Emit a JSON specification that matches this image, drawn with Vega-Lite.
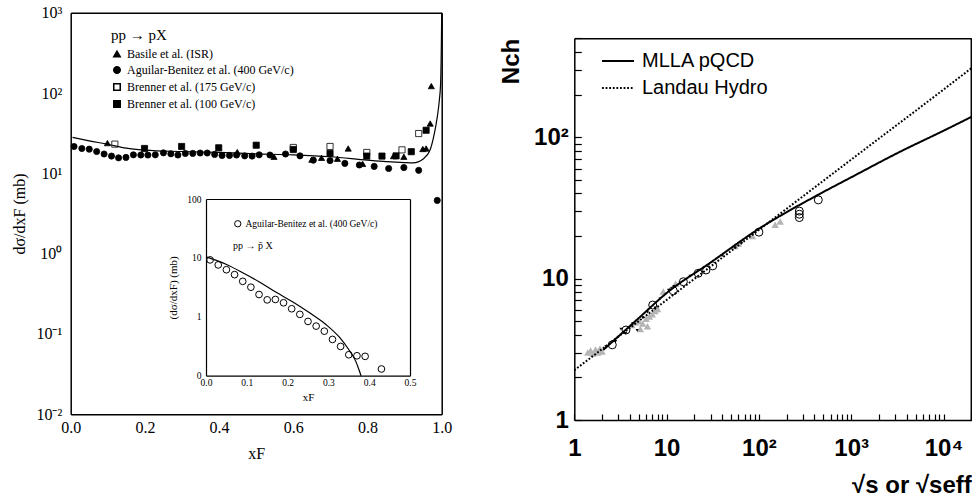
{
  "$schema": "https://vega.github.io/schema/vega-lite/v6.json",
  "width": 972,
  "height": 503,
  "autosize": {"type": "none"},
  "padding": 0,
  "background": "white",
  "config": {
    "view": {"stroke": null},
    "axis": {"grid": false, "labelFlush": false, "labelOverlap": false, "domainColor": "black", "tickColor": "black", "labelColor": "black", "titleColor": "black", "tickWidth": 1.2, "tickOpacity": 1}
  },
  "datasets": {
    "dummy": [{"a": 1, "b": 1}],
    "main": [
      {"x": 0.009, "y": 21.6, "series": "Aguilar-Benitez et al. (400 GeV/c)"},
      {"x": 0.030, "y": 20.4, "series": "Aguilar-Benitez et al. (400 GeV/c)"},
      {"x": 0.050, "y": 20.0, "series": "Aguilar-Benitez et al. (400 GeV/c)"},
      {"x": 0.070, "y": 18.7, "series": "Aguilar-Benitez et al. (400 GeV/c)"},
      {"x": 0.090, "y": 17.4, "series": "Aguilar-Benitez et al. (400 GeV/c)"},
      {"x": 0.110, "y": 16.4, "series": "Aguilar-Benitez et al. (400 GeV/c)"},
      {"x": 0.129, "y": 15.6, "series": "Aguilar-Benitez et al. (400 GeV/c)"},
      {"x": 0.149, "y": 15.8, "series": "Aguilar-Benitez et al. (400 GeV/c)"},
      {"x": 0.169, "y": 17.0, "series": "Aguilar-Benitez et al. (400 GeV/c)"},
      {"x": 0.189, "y": 16.9, "series": "Aguilar-Benitez et al. (400 GeV/c)"},
      {"x": 0.208, "y": 16.9, "series": "Aguilar-Benitez et al. (400 GeV/c)"},
      {"x": 0.228, "y": 17.0, "series": "Aguilar-Benitez et al. (400 GeV/c)"},
      {"x": 0.250, "y": 18.0, "series": "Aguilar-Benitez et al. (400 GeV/c)"},
      {"x": 0.270, "y": 17.5, "series": "Aguilar-Benitez et al. (400 GeV/c)"},
      {"x": 0.289, "y": 16.9, "series": "Aguilar-Benitez et al. (400 GeV/c)"},
      {"x": 0.309, "y": 17.7, "series": "Aguilar-Benitez et al. (400 GeV/c)"},
      {"x": 0.329, "y": 17.7, "series": "Aguilar-Benitez et al. (400 GeV/c)"},
      {"x": 0.349, "y": 17.9, "series": "Aguilar-Benitez et al. (400 GeV/c)"},
      {"x": 0.368, "y": 17.9, "series": "Aguilar-Benitez et al. (400 GeV/c)"},
      {"x": 0.388, "y": 17.2, "series": "Aguilar-Benitez et al. (400 GeV/c)"},
      {"x": 0.408, "y": 16.7, "series": "Aguilar-Benitez et al. (400 GeV/c)"},
      {"x": 0.428, "y": 16.7, "series": "Aguilar-Benitez et al. (400 GeV/c)"},
      {"x": 0.447, "y": 16.9, "series": "Aguilar-Benitez et al. (400 GeV/c)"},
      {"x": 0.469, "y": 16.5, "series": "Aguilar-Benitez et al. (400 GeV/c)"},
      {"x": 0.489, "y": 16.4, "series": "Aguilar-Benitez et al. (400 GeV/c)"},
      {"x": 0.508, "y": 17.0, "series": "Aguilar-Benitez et al. (400 GeV/c)"},
      {"x": 0.537, "y": 16.9, "series": "Aguilar-Benitez et al. (400 GeV/c)"},
      {"x": 0.579, "y": 17.4, "series": "Aguilar-Benitez et al. (400 GeV/c)"},
      {"x": 0.618, "y": 16.5, "series": "Aguilar-Benitez et al. (400 GeV/c)"},
      {"x": 0.654, "y": 14.6, "series": "Aguilar-Benitez et al. (400 GeV/c)"},
      {"x": 0.699, "y": 14.4, "series": "Aguilar-Benitez et al. (400 GeV/c)"},
      {"x": 0.739, "y": 13.3, "series": "Aguilar-Benitez et al. (400 GeV/c)"},
      {"x": 0.778, "y": 12.7, "series": "Aguilar-Benitez et al. (400 GeV/c)"},
      {"x": 0.818, "y": 12.2, "series": "Aguilar-Benitez et al. (400 GeV/c)"},
      {"x": 0.857, "y": 11.5, "series": "Aguilar-Benitez et al. (400 GeV/c)"},
      {"x": 0.898, "y": 11.8, "series": "Aguilar-Benitez et al. (400 GeV/c)"},
      {"x": 0.938, "y": 10.9, "series": "Aguilar-Benitez et al. (400 GeV/c)"},
      {"x": 0.988, "y": 4.6, "series": "Aguilar-Benitez et al. (400 GeV/c)"},
      {"x": 0.099, "y": 23.8, "series": "Basile et al. (ISR)"},
      {"x": 0.449, "y": 18.4, "series": "Basile et al. (ISR)"},
      {"x": 0.548, "y": 16.1, "series": "Basile et al. (ISR)"},
      {"x": 0.650, "y": 14.8, "series": "Basile et al. (ISR)"},
      {"x": 0.676, "y": 15.6, "series": "Basile et al. (ISR)"},
      {"x": 0.719, "y": 15.2, "series": "Basile et al. (ISR)"},
      {"x": 0.748, "y": 20.4, "series": "Basile et al. (ISR)"},
      {"x": 0.787, "y": 13.1, "series": "Basile et al. (ISR)"},
      {"x": 0.870, "y": 16.4, "series": "Basile et al. (ISR)"},
      {"x": 0.898, "y": 16.1, "series": "Basile et al. (ISR)"},
      {"x": 0.949, "y": 20.1, "series": "Basile et al. (ISR)"},
      {"x": 0.958, "y": 20.4, "series": "Basile et al. (ISR)"},
      {"x": 0.969, "y": 41.7, "series": "Basile et al. (ISR)"},
      {"x": 0.972, "y": 122, "series": "Basile et al. (ISR)"},
      {"x": 0.119, "y": 23.1, "series": "Brenner et al. (175 GeV/c)"},
      {"x": 0.600, "y": 21.0, "series": "Brenner et al. (175 GeV/c)"},
      {"x": 0.699, "y": 21.6, "series": "Brenner et al. (175 GeV/c)"},
      {"x": 0.798, "y": 18.2, "series": "Brenner et al. (175 GeV/c)"},
      {"x": 0.893, "y": 19.6, "series": "Brenner et al. (175 GeV/c)"},
      {"x": 0.938, "y": 31.3, "series": "Brenner et al. (175 GeV/c)"},
      {"x": 0.199, "y": 20.4, "series": "Brenner et al. (100 GeV/c)"},
      {"x": 0.299, "y": 21.6, "series": "Brenner et al. (100 GeV/c)"},
      {"x": 0.399, "y": 20.8, "series": "Brenner et al. (100 GeV/c)"},
      {"x": 0.500, "y": 22.4, "series": "Brenner et al. (100 GeV/c)"},
      {"x": 0.600, "y": 19.8, "series": "Brenner et al. (100 GeV/c)"},
      {"x": 0.699, "y": 17.7, "series": "Brenner et al. (100 GeV/c)"},
      {"x": 0.798, "y": 16.4, "series": "Brenner et al. (100 GeV/c)"},
      {"x": 0.839, "y": 16.4, "series": "Brenner et al. (100 GeV/c)"},
      {"x": 0.877, "y": 16.5, "series": "Brenner et al. (100 GeV/c)"},
      {"x": 0.918, "y": 18.6, "series": "Brenner et al. (100 GeV/c)"},
      {"x": 0.958, "y": 34.4, "series": "Brenner et al. (100 GeV/c)"}
    ],
    "mainCurve": [
      {"x": 0.005, "y": 28}, {"x": 0.05, "y": 25.4}, {"x": 0.1, "y": 23.0}, {"x": 0.15, "y": 20.6},
      {"x": 0.2, "y": 19.5}, {"x": 0.3, "y": 18.7}, {"x": 0.4, "y": 18.2}, {"x": 0.5, "y": 17.5},
      {"x": 0.6, "y": 17.0}, {"x": 0.7, "y": 16.1}, {"x": 0.8, "y": 14.6}, {"x": 0.85, "y": 14.0},
      {"x": 0.9, "y": 13.6}, {"x": 0.923, "y": 13.5}, {"x": 0.95, "y": 15.1}, {"x": 0.968, "y": 19.2},
      {"x": 0.98, "y": 31}, {"x": 0.988, "y": 50}, {"x": 0.9935, "y": 80}, {"x": 0.997, "y": 130},
      {"x": 0.9992, "y": 450}, {"x": 1.0, "y": 1000}
    ],
    "inset": [
      {"x": 0.01, "y": 9.25, "series": "Aguilar-Benitez et al. (400 GeV/c)"},
      {"x": 0.03, "y": 7.6, "series": "Aguilar-Benitez et al. (400 GeV/c)"},
      {"x": 0.05, "y": 6.3, "series": "Aguilar-Benitez et al. (400 GeV/c)"},
      {"x": 0.07, "y": 5.2, "series": "Aguilar-Benitez et al. (400 GeV/c)"},
      {"x": 0.09, "y": 4.0, "series": "Aguilar-Benitez et al. (400 GeV/c)"},
      {"x": 0.11, "y": 3.18, "series": "Aguilar-Benitez et al. (400 GeV/c)"},
      {"x": 0.13, "y": 2.39, "series": "Aguilar-Benitez et al. (400 GeV/c)"},
      {"x": 0.15, "y": 1.94, "series": "Aguilar-Benitez et al. (400 GeV/c)"},
      {"x": 0.17, "y": 1.97, "series": "Aguilar-Benitez et al. (400 GeV/c)"},
      {"x": 0.19, "y": 1.73, "series": "Aguilar-Benitez et al. (400 GeV/c)"},
      {"x": 0.21, "y": 1.37, "series": "Aguilar-Benitez et al. (400 GeV/c)"},
      {"x": 0.23, "y": 1.10, "series": "Aguilar-Benitez et al. (400 GeV/c)"},
      {"x": 0.25, "y": 0.834, "series": "Aguilar-Benitez et al. (400 GeV/c)"},
      {"x": 0.27, "y": 0.695, "series": "Aguilar-Benitez et al. (400 GeV/c)"},
      {"x": 0.29, "y": 0.57, "series": "Aguilar-Benitez et al. (400 GeV/c)"},
      {"x": 0.31, "y": 0.413, "series": "Aguilar-Benitez et al. (400 GeV/c)"},
      {"x": 0.33, "y": 0.314, "series": "Aguilar-Benitez et al. (400 GeV/c)"},
      {"x": 0.35, "y": 0.227, "series": "Aguilar-Benitez et al. (400 GeV/c)"},
      {"x": 0.37, "y": 0.218, "series": "Aguilar-Benitez et al. (400 GeV/c)"},
      {"x": 0.39, "y": 0.213, "series": "Aguilar-Benitez et al. (400 GeV/c)"},
      {"x": 0.43, "y": 0.13, "series": "Aguilar-Benitez et al. (400 GeV/c)"}
    ],
    "insetCurve": [
      {"x": 0, "y": 10.4}, {"x": 0.049, "y": 7.8}, {"x": 0.09, "y": 5.6}, {"x": 0.131, "y": 3.9},
      {"x": 0.172, "y": 2.6}, {"x": 0.212, "y": 1.8}, {"x": 0.253, "y": 1.18}, {"x": 0.294, "y": 0.74},
      {"x": 0.327, "y": 0.45}, {"x": 0.351, "y": 0.27}, {"x": 0.368, "y": 0.17}, {"x": 0.376, "y": 0.12},
      {"x": 0.38, "y": 0.1}
    ],
    "rightLines": [
      {"x": 2.06, "y": 3.13, "model": "MLLA pQCD"}, {"x": 3, "y": 3.9, "model": "MLLA pQCD"},
      {"x": 5, "y": 5.26, "model": "MLLA pQCD"}, {"x": 10, "y": 7.9, "model": "MLLA pQCD"},
      {"x": 30, "y": 13, "model": "MLLA pQCD"}, {"x": 100, "y": 22.5, "model": "MLLA pQCD"},
      {"x": 460, "y": 39.8, "model": "MLLA pQCD"}, {"x": 1000, "y": 52, "model": "MLLA pQCD"},
      {"x": 3400, "y": 79, "model": "MLLA pQCD"}, {"x": 10000, "y": 111, "model": "MLLA pQCD"},
      {"x": 20000, "y": 139, "model": "MLLA pQCD"},
      {"x": 1, "y": 2.25, "model": "Landau Hydro"}, {"x": 10, "y": 7.06, "model": "Landau Hydro"},
      {"x": 100, "y": 22.1, "model": "Landau Hydro"}, {"x": 1000, "y": 69.4, "model": "Landau Hydro"},
      {"x": 10000, "y": 217, "model": "Landau Hydro"}, {"x": 20000, "y": 307, "model": "Landau Hydro"}
    ],
    "rightCircles": [
      {"x": 2.58, "y": 3.4}, {"x": 3.63, "y": 4.33}, {"x": 7.07, "y": 6.5}, {"x": 11.8, "y": 8.2},
      {"x": 15.2, "y": 9.5}, {"x": 22, "y": 10.9}, {"x": 26.7, "y": 11.5}, {"x": 31.6, "y": 12.3},
      {"x": 100, "y": 21.3}, {"x": 274, "y": 27}, {"x": 274, "y": 28.5}, {"x": 274, "y": 30},
      {"x": 440, "y": 36}
    ],
    "rightGray": [
      {"x": 1.4, "y": 3.0}, {"x": 1.5, "y": 3.1}, {"x": 1.6, "y": 2.95}, {"x": 1.7, "y": 3.15},
      {"x": 1.8, "y": 3.0}, {"x": 1.9, "y": 3.2}, {"x": 2.0, "y": 3.05}, {"x": 4.2, "y": 4.7},
      {"x": 4.6, "y": 4.9}, {"x": 5.0, "y": 5.0}, {"x": 5.5, "y": 4.8}, {"x": 6.0, "y": 5.2},
      {"x": 6.5, "y": 5.4}, {"x": 7.0, "y": 5.6}, {"x": 7.5, "y": 5.9}, {"x": 8.0, "y": 6.1},
      {"x": 5.2, "y": 4.4}, {"x": 6.2, "y": 4.6}, {"x": 9.2, "y": 8.1}, {"x": 12.5, "y": 9.2},
      {"x": 55, "y": 17}, {"x": 60, "y": 17.6}, {"x": 85, "y": 20}, {"x": 150, "y": 24}, {"x": 170, "y": 25.3}
    ],
    "rightBlack": [
      {"x": 2.2, "y": 3.3}, {"x": 2.8, "y": 3.6}, {"x": 3.2, "y": 4.4}, {"x": 3.6, "y": 4.1},
      {"x": 4.3, "y": 4.8}, {"x": 4.8, "y": 4.3}, {"x": 5.5, "y": 5.3}, {"x": 6.2, "y": 5.8},
      {"x": 7.5, "y": 6.2}, {"x": 8.5, "y": 7.2}, {"x": 10.5, "y": 8.3}, {"x": 12, "y": 8.8},
      {"x": 14, "y": 9.3}, {"x": 18, "y": 10.4}, {"x": 25, "y": 11.8}, {"x": 40, "y": 14.5},
      {"x": 55, "y": 16.5}, {"x": 65, "y": 17.8}
    ]
  },
  "resolve": {
    "scale": {"x": "independent", "y": "independent", "shape": "independent", "fill": "independent", "strokeDash": "independent"},
    "axis": {"x": "independent", "y": "independent"},
    "legend": {"shape": "independent", "fill": "independent", "strokeDash": "independent"}
  },
  "layer": [
    {
      "data": {"name": "main"},
      "mark": {"type": "point", "filled": true, "stroke": "black", "strokeWidth": 0.8, "size": 38, "opacity": 1},
      "encoding": {
        "x": {"field": "x", "type": "quantitative",
          "scale": {"type": "linear", "domain": [0, 1], "range": [70.7, 441.7], "nice": false, "zero": false},
          "axis": {"orient": "bottom", "offset": -88.7, "values": [0, 0.2, 0.4, 0.6, 0.8, 1], "format": ".1f", "ticks": false, "domainWidth": 1.5, "labelFont": "Liberation Serif", "labelFontSize": 16, "labelPadding": 5, "title": "xF", "titleFont": "Liberation Serif", "titleFontSize": 16, "titleFontWeight": "normal", "titlePadding": 10}},
        "y": {"field": "y", "type": "quantitative",
          "scale": {"type": "log", "domain": [0.01, 1000], "range": [414.3, 12.7], "nice": false},
          "axis": {"orient": "left", "offset": -70.7, "values": [0.01, 0.1, 1, 10, 100, 1000], "labelExpr": "datum.value == 1000 ? '10³' : datum.value == 100 ? '10²' : datum.value == 10 ? '10¹' : datum.value == 1 ? '10⁰' : datum.value == 0.1 ? '10⁻¹' : '10⁻²'", "ticks": false, "domainWidth": 1.5, "labelFont": "Liberation Serif", "labelFontSize": 16, "labelPadding": 9, "title": "dσ/dxF (mb)", "titleFont": "Liberation Serif", "titleFontSize": 16, "titleFontWeight": "normal", "titlePadding": 8}},
        "shape": {"field": "series", "type": "nominal",
          "scale": {"domain": ["Basile et al. (ISR)", "Aguilar-Benitez et al. (400 GeV/c)", "Brenner et al. (175 GeV/c)", "Brenner et al. (100 GeV/c)"], "range": ["triangle-up", "circle", "square", "square"]},
          "legend": {"title": "pp → pX", "orient": "none", "legendX": 111, "legendY": 28, "padding": 0, "titleFont": "Liberation Serif", "titleFontSize": 15, "titleFontWeight": "normal", "titlePadding": 5, "labelFont": "Liberation Serif", "labelFontSize": 12, "labelLimit": 400, "labelColor": "black", "titleColor": "black", "symbolSize": 42, "rowPadding": 3, "labelOffset": 4,
            "encode": {"symbols": {"update": {"stroke": {"value": "black"}, "strokeWidth": {"value": 1}}}}}},
        "fill": {"field": "series", "type": "nominal",
          "scale": {"domain": ["Basile et al. (ISR)", "Aguilar-Benitez et al. (400 GeV/c)", "Brenner et al. (175 GeV/c)", "Brenner et al. (100 GeV/c)"], "range": ["black", "black", "white", "black"]},
          "legend": {"title": "pp → pX", "orient": "none", "legendX": 111, "legendY": 28, "padding": 0, "titleFont": "Liberation Serif", "titleFontSize": 15, "titleFontWeight": "normal", "titlePadding": 5, "labelFont": "Liberation Serif", "labelFontSize": 12, "labelLimit": 400, "labelColor": "black", "titleColor": "black", "symbolSize": 42, "rowPadding": 3, "labelOffset": 4,
            "encode": {"symbols": {"update": {"stroke": {"value": "black"}, "strokeWidth": {"value": 1}}}}}}
      }
    },
    {
      "data": {"name": "mainCurve"},
      "mark": {"type": "line", "color": "black", "strokeWidth": 1.2, "interpolate": "monotone"},
      "encoding": {
        "x": {"field": "x", "type": "quantitative", "scale": {"type": "linear", "domain": [0, 1], "range": [70.7, 441.7], "nice": false, "zero": false},
          "axis": {"orient": "top", "offset": -12.7, "labels": false, "ticks": false, "domain": true, "domainWidth": 1.5, "title": null}},
        "y": {"field": "y", "type": "quantitative", "scale": {"type": "log", "domain": [0.01, 1000], "range": [414.3, 12.7], "nice": false},
          "axis": {"orient": "right", "offset": -530.3, "labels": false, "ticks": false, "domain": true, "domainWidth": 1.5, "title": null}}
      }
    },
    {
      "data": {"name": "inset"},
      "mark": {"type": "point", "filled": false, "color": "black", "strokeWidth": 1, "size": 45, "opacity": 1},
      "encoding": {
        "x": {"field": "x", "type": "quantitative",
          "scale": {"type": "linear", "domain": [0, 0.5], "range": [206, 410], "nice": false, "zero": false},
          "axis": {"orient": "bottom", "offset": -127.3, "values": [0, 0.1, 0.2, 0.3, 0.4, 0.5], "format": ".1f", "ticks": false, "domainWidth": 1.2, "labelFont": "Liberation Serif", "labelFontSize": 9.5, "labelPadding": 2, "title": "xF", "titleFont": "Liberation Serif", "titleFontSize": 11, "titleFontWeight": "normal", "titlePadding": 4}},
        "y": {"field": "y", "type": "quantitative",
          "scale": {"type": "log", "domain": [0.1, 100], "range": [375.7, 199], "nice": false},
          "axis": {"orient": "left", "offset": -206, "values": [0.1, 1, 10, 100], "labelExpr": "datum.value == 100 ? '100' : datum.value == 10 ? '10' : datum.value == 1 ? '1' : '0'", "ticks": false, "domainWidth": 1.2, "labelFont": "Liberation Serif", "labelFontSize": 9.5, "labelPadding": 5, "title": "(dσ/dxF) (mb)", "titleFont": "Liberation Serif", "titleFontSize": 11, "titleFontWeight": "normal", "titlePadding": 8}},
        "shape": {"field": "series", "type": "nominal", "scale": {"range": ["circle"]},
          "legend": {"title": "pp → p̄ X", "titleOrient": "bottom", "titleAnchor": "start", "orient": "none", "legendX": 233, "legendY": 219, "padding": 0, "titleFont": "Liberation Serif", "titleFontSize": 10, "titleFontWeight": "normal", "titlePadding": 12, "labelFont": "Liberation Serif", "labelFontSize": 9.5, "labelLimit": 400, "labelColor": "black", "titleColor": "black", "symbolSize": 40, "symbolStrokeColor": "black", "symbolStrokeWidth": 1, "labelOffset": 3}}
      }
    },
    {
      "data": {"name": "insetCurve"},
      "mark": {"type": "line", "color": "black", "strokeWidth": 1.2, "interpolate": "monotone"},
      "encoding": {
        "x": {"field": "x", "type": "quantitative", "scale": {"type": "linear", "domain": [0, 0.5], "range": [206, 410], "nice": false, "zero": false},
          "axis": {"orient": "top", "offset": -199, "labels": false, "ticks": false, "domain": true, "domainWidth": 1.2, "title": null}},
        "y": {"field": "y", "type": "quantitative", "scale": {"type": "log", "domain": [0.1, 100], "range": [375.7, 199], "nice": false},
          "axis": {"orient": "right", "offset": -562, "labels": false, "ticks": false, "domain": true, "domainWidth": 1.2, "title": null}}
      }
    },
    {
      "data": {"name": "rightGray"},
      "mark": {"type": "point", "filled": true, "shape": "triangle-up", "color": "#b4b4b4", "size": 55, "opacity": 1},
      "encoding": {
        "x": {"field": "x", "type": "quantitative",
          "scale": {"type": "log", "domain": [1, 20000], "range": [574.3, 971.3], "nice": false},
          "axis": {"orient": "bottom", "offset": -83, "values": [1, 10, 100, 1000, 10000], "labelExpr": "datum.value == 1 ? '1' : datum.value == 10 ? '10' : datum.value == 100 ? '10²' : datum.value == 1000 ? '10³' : '10⁴'", "ticks": false, "domainWidth": 1.5, "labelFont": "Liberation Sans", "labelFontWeight": "bold", "labelFontSize": 24, "labelPadding": 16, "title": "√s or √seff", "titleFont": "Liberation Sans", "titleFontWeight": "bold", "titleFontSize": 24, "titleAnchor": "end", "titlePadding": 13}},
        "y": {"field": "y", "type": "quantitative",
          "scale": {"type": "log", "domain": [1, 500], "range": [420, 38.3], "nice": false},
          "axis": {"orient": "left", "offset": -574.3, "values": [1, 10, 100], "labelExpr": "datum.value == 1 ? '1' : datum.value == 10 ? '10' : '10²'", "ticks": false, "domainWidth": 1.5, "labelFont": "Liberation Sans", "labelFontWeight": "bold", "labelFontSize": 24, "labelPadding": 6, "title": "Nch", "titleFont": "Liberation Sans", "titleFontWeight": "bold", "titleFontSize": 24, "titleAnchor": "end", "titlePadding": 10}}
      }
    },
    {
      "data": {"name": "rightBlack"},
      "mark": {"type": "point", "filled": true, "shape": "triangle-down", "color": "black", "size": 10, "opacity": 1},
      "encoding": {
        "x": {"field": "x", "type": "quantitative", "scale": {"type": "log", "domain": [1, 20000], "range": [574.3, 971.3], "nice": false}, "axis": null},
        "y": {"field": "y", "type": "quantitative", "scale": {"type": "log", "domain": [1, 500], "range": [420, 38.3], "nice": false}, "axis": null}
      }
    },
    {
      "data": {"name": "rightLines"},
      "mark": {"type": "line", "color": "black", "strokeWidth": 2, "interpolate": "monotone"},
      "encoding": {
        "x": {"field": "x", "type": "quantitative", "scale": {"type": "log", "domain": [1, 20000], "range": [574.3, 971.3], "nice": false},
          "axis": {"orient": "top", "offset": -38.3, "labels": false, "ticks": false, "domain": true, "domainWidth": 1.5, "title": null}},
        "y": {"field": "y", "type": "quantitative", "scale": {"type": "log", "domain": [1, 500], "range": [420, 38.3], "nice": false},
          "axis": {"orient": "right", "offset": -1.2, "labels": false, "ticks": false, "domain": true, "domainWidth": 1.5, "title": null}},
        "strokeDash": {"field": "model", "type": "nominal",
          "scale": {"domain": ["MLLA pQCD", "Landau Hydro"], "range": [[1, 0], [1.8, 1.8]]},
          "legend": {"title": null, "orient": "none", "legendX": 601, "legendY": 44, "padding": 0, "symbolType": "stroke", "symbolSize": 1024, "symbolStrokeWidth": 2, "symbolStrokeColor": "black", "labelFont": "Liberation Sans", "labelFontSize": 20, "labelColor": "black", "labelOffset": 7, "rowPadding": -3}}
      }
    },
    {
      "data": {"name": "rightCircles"},
      "mark": {"type": "point", "filled": false, "shape": "circle", "color": "black", "strokeWidth": 1, "size": 64, "opacity": 1},
      "encoding": {
        "x": {"field": "x", "type": "quantitative", "scale": {"type": "log", "domain": [1, 20000], "range": [574.3, 971.3], "nice": false},
          "axis": {"orient": "top", "offset": -420, "values": [1, 2, 3, 4, 5, 6, 7, 8, 9, 10, 20, 30, 40, 50, 60, 70, 80, 90, 100, 200, 300, 400, 500, 600, 700, 800, 900, 1000, 2000, 3000, 4000, 5000, 6000, 7000, 8000, 9000, 10000, 20000], "labels": false, "domain": false, "ticks": true, "tickSize": 6, "title": null}},
        "y": {"field": "y", "type": "quantitative", "scale": {"type": "log", "domain": [1, 500], "range": [420, 38.3], "nice": false},
          "axis": {"orient": "right", "offset": -397.7, "values": [1, 2, 3, 4, 5, 6, 7, 8, 9, 10, 20, 30, 40, 50, 60, 70, 80, 90, 100, 200, 300, 400, 500], "labels": false, "domain": false, "ticks": true, "tickSize": 7, "title": null}}
      }
    }
  ]
}
